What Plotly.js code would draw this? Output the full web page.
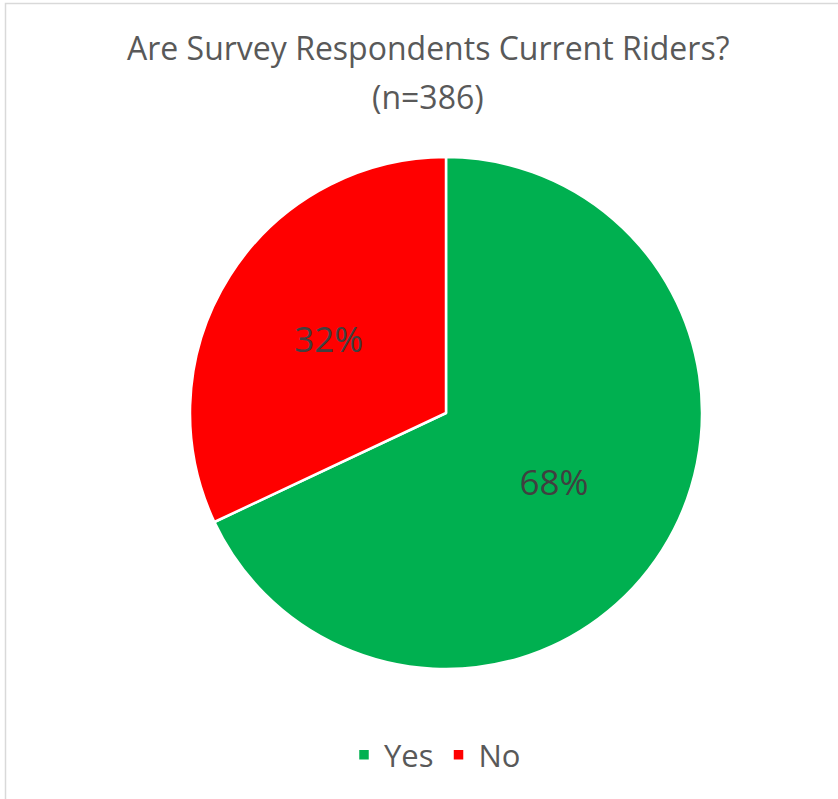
<!DOCTYPE html>
<html>
<head>
<meta charset="utf-8">
<script src="https://cdn.plot.ly/plotly-3.0.1.min.js"></script>
<style>
html,body{margin:0;padding:0;background:#fff;}
#chart{width:838px;height:799px;}
</style>
</head>
<body>
<div id="chart"></div>
<script>
const labels = ["Yes", "No"];
const values = [68, 32];
const colors = ["#00B050", "#FF0000"];
const titleLine1 = "Are Survey Respondents Current Riders?";
const titleLine2 = "(n=386)";

const trace = {
  type: "pie",
  labels: labels,
  values: values,
  sort: false,
  direction: "clockwise",
  rotation: 0,
  marker: {colors: colors, line: {color: "#ffffff", width: 2.5}},
  textinfo: "percent",
  texttemplate: "%{percent:.0%}",
  textposition: "inside",
  insidetextorientation: "horizontal",
  textfont: {family: "Open Sans, sans-serif", size: 35, color: "#404040"},
  domain: {x: [190/838, 702/838], y: [1 - 669/799, 1 - 157/799]},
  hoverinfo: "label+percent"
};

const titleFont = {family: "Open Sans, sans-serif", size: 32, color: "#595959"};

const layout = {
  width: 838,
  height: 799,
  margin: {l: 0, r: 0, t: 0, b: 0},
  paper_bgcolor: "#ffffff",
  annotations: [{
    text: titleLine1,
    showarrow: false,
    font: titleFont,
    xref: "paper", yref: "paper",
    x: 428/838, xanchor: "center",
    y: 1 - 48/799, yanchor: "middle"
  }, {
    text: titleLine2,
    showarrow: false,
    font: titleFont,
    xref: "paper", yref: "paper",
    x: 428/838, xanchor: "center",
    y: 1 - 96/799, yanchor: "middle"
  }],
  showlegend: true,
  legend: {
    orientation: "h",
    x: 435/838, xanchor: "center",
    y: 1 - 728/799, yanchor: "top",
    font: {family: "Open Sans, sans-serif", size: 31, color: "#595959"},
    itemwidth: 30
  },
  shapes: [{
    type: "rect", xref: "paper", yref: "paper",
    x0: 5.5/838, x1: 1.2, y0: -0.2, y1: 1 - 3.5/799,
    line: {color: "#d9d9d9", width: 1.5}, fillcolor: "rgba(0,0,0,0)"
  }]
};

Plotly.newPlot("chart", [trace], layout, {displayModeBar: false, staticPlot: true});
</script>
</body>
</html>
